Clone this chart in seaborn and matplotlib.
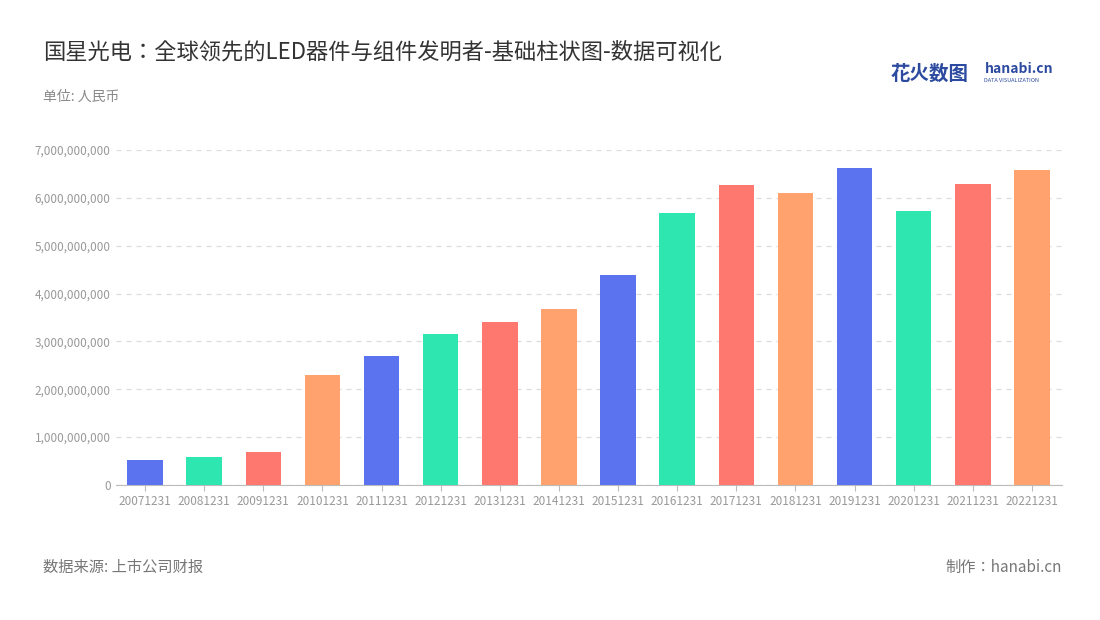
import matplotlib
matplotlib.use("Agg")
import matplotlib.pyplot as plt
import matplotlib.ticker as mticker
import seaborn as sns
import pandas as pd

# -----------------------------
# Data
# -----------------------------
periods = ["20071231", "20081231", "20091231", "20101231", "20111231", "20121231",
           "20131231", "20141231", "20151231", "20161231", "20171231", "20181231",
           "20191231", "20201231", "20211231", "20221231"]
revenue = [0.52e9, 0.585e9, 0.69e9, 2.30e9, 2.695e9, 3.155e9, 3.405e9, 3.68e9,
           4.39e9, 5.68e9, 6.27e9, 6.10e9, 6.62e9, 5.725e9, 6.29e9, 6.58e9]
palette_cycle = ["#5B73EE", "#2EE6B0", "#FF7870", "#FFA26E"]

df = pd.DataFrame({"period": periods, "revenue": revenue})
colors = [palette_cycle[i % 4] for i in range(len(periods))]

plt.rcParams["font.family"] = ["Noto Sans CJK JP", "Noto Sans CJK SC", "DejaVu Sans"]

fig = plt.figure(figsize=(11, 6.2), dpi=100)
ax = fig.add_axes([0.105, 0.218, 0.86, 0.54])

sns.barplot(data=df, x="period", y="revenue", hue="period", palette=colors,
            legend=False, width=0.6, saturation=1, ax=ax, zorder=3)

ax.set_ylim(0, 7e9)
ax.yaxis.set_major_locator(mticker.MultipleLocator(1e9))
ax.yaxis.set_major_formatter(mticker.FuncFormatter(lambda v, p: f"{int(v):,}"))
ax.grid(axis="y", linestyle=(0, (4, 4)), color="#DDDDDD", linewidth=0.9, zorder=0)
ax.set_xlabel("")
ax.set_ylabel("")
for s in ["top", "right", "left"]:
    ax.spines[s].set_visible(False)
ax.spines["bottom"].set_color("#BBBBBB")
ax.tick_params(axis="y", length=0, labelsize=8.5, colors="#999999")
ax.tick_params(axis="x", length=4, color="#BBBBBB", labelsize=8.5, colors="#999999")
ax.set_xlim(-0.5, len(periods) - 0.5)

fig.text(0.039, 0.905, "国星光电：全球领先的LED器件与组件发明者-基础柱状图-数据可视化",
         fontsize=16, color="#333333")
fig.text(0.039, 0.838, "单位: 人民币", fontsize=10, color="#888888")
fig.text(0.039, 0.077, "数据来源: 上市公司财报", fontsize=11, color="#777777")
fig.text(0.965, 0.077, "制作：hanabi.cn", fontsize=11, color="#777777", ha="right")
fig.text(0.81, 0.872, "花火数图", fontsize=14, color="#2B4AA0", fontweight="bold")
fig.text(0.895, 0.882, "hanabi.cn", fontsize=10, color="#2B4AA0", fontweight="bold")
fig.text(0.895, 0.868, "DATA VISUALIZATION", fontsize=4, color="#2B4AA0")

fig.savefig("out.png", dpi=100, facecolor="white")
